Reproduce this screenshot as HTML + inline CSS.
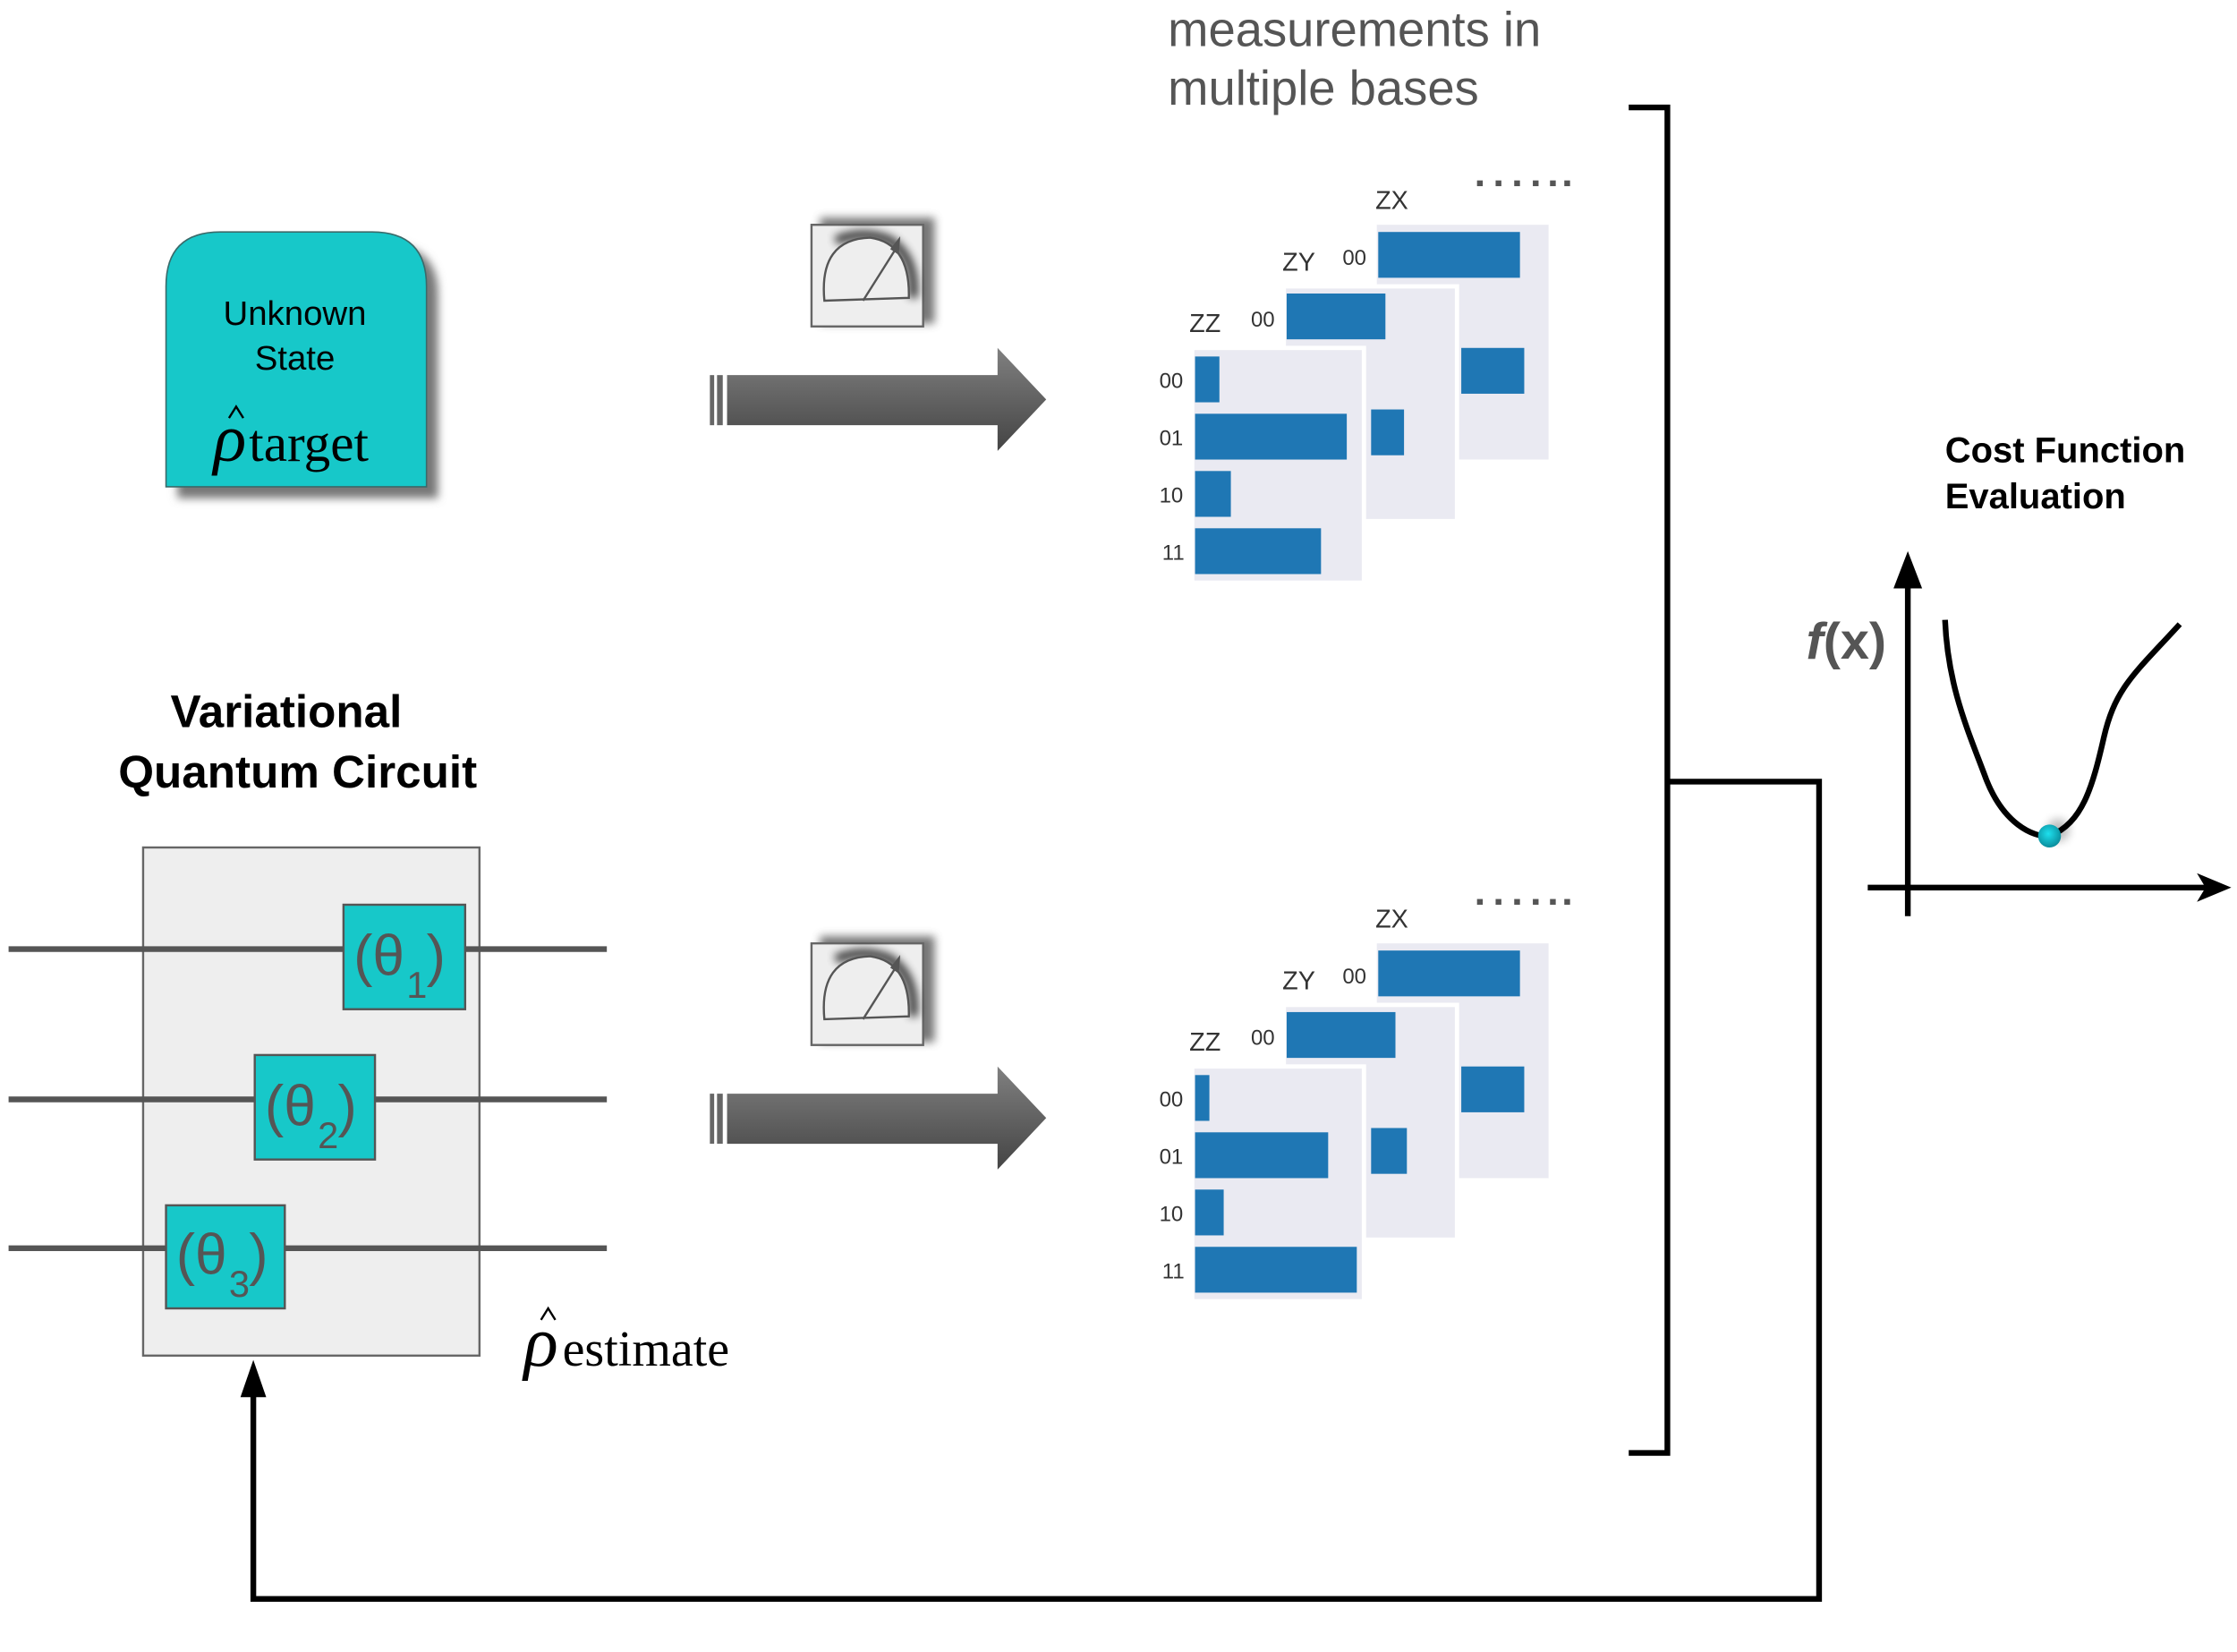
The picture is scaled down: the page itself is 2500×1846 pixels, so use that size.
<!DOCTYPE html>
<html><head><meta charset="utf-8"><style>html,body{margin:0;padding:0;background:#fff}svg{display:block}</style></head><body>
<svg width="2500" height="1846" viewBox="0 0 1563 1154" xmlns="http://www.w3.org/2000/svg">
<defs>
<linearGradient id="ag" x1="0" y1="0" x2="0" y2="1"><stop offset="0" stop-color="#808080"/><stop offset="1" stop-color="#444"/></linearGradient>
<filter id="sh" x="-30%" y="-30%" width="160%" height="160%"><feGaussianBlur stdDeviation="3"/></filter>
<radialGradient id="ball" cx="0.45" cy="0.4" r="0.6"><stop offset="0" stop-color="#1ee0ee"/><stop offset="1" stop-color="#0a8d9c"/></radialGradient>
</defs>
<g font-family="Liberation Sans, sans-serif">
<text x="816" y="32" font-size="34" fill="#555">measurements in</text>
<text x="816" y="73" font-size="34" fill="#555">multiple bases</text>

<path d="M124,348 V205 Q124,170 162,170 H266 Q306,170 306,205 V348 Z" fill="#777" filter="url(#sh)"/>
<path d="M116,340 V200 Q116,162 154,162 H260 Q298,162 298,200 V340 Z" fill="#17c8c9" stroke="#3a6a6a" stroke-width="1"/>
<text x="206" y="227" font-size="24" text-anchor="middle">Unknown</text>
<text x="206" y="258" font-size="24" text-anchor="middle">State</text>
<text x="149" y="322" font-family="Liberation Serif, serif" font-size="48" font-style="italic">ρ</text>
<path d="M160,292 L165,284 L170,292" fill="none" stroke="#000" stroke-width="1.5"/>
<text x="174" y="322" font-family="Liberation Serif, serif" font-size="37">target</text>

<g id="mm">
<rect x="573" y="152" width="80" height="74" fill="#555" filter="url(#sh)" opacity="0.8"/>
<rect x="567" y="157" width="78" height="71" fill="#eee" stroke="#666" stroke-width="1.5"/>
<path d="M584,168 Q604,160 622,168 Q640,180 638,208" fill="none" stroke="#000" stroke-width="6" filter="url(#sh)" opacity="0.8"/>
<path d="M576,210 Q572,167 608,166 Q636,170 635,208 Z" fill="#eee" stroke="#555" stroke-width="1.5"/>
<path d="M603,210 L627,172" stroke="#555" stroke-width="1.5"/>
<path d="M622,174 L629,165 L628,178 Z" fill="#555"/>
<rect x="496" y="262" width="3" height="35" fill="#666"/>
<rect x="501" y="262" width="4" height="35" fill="#666"/>
<path d="M508,262 H697 V243 L731,279 L697,315 V297 H508 Z" fill="url(#ag)"/>
</g>
<use href="#mm" transform="translate(0,502)"/>

<g font-size="15" fill="#333">
<rect x="962" y="157" width="120" height="164" fill="#eaeaf2"/>
<rect x="963" y="162" width="99" height="32" fill="#1f77b4"/>
<rect x="1021" y="243" width="44" height="32" fill="#1f77b4"/>
<rect x="897" y="200" width="121" height="164" fill="#eaeaf2" stroke="#fff" stroke-width="3"/>
<rect x="899" y="205" width="69" height="32" fill="#1f77b4"/>
<rect x="958" y="286" width="23" height="32" fill="#1f77b4"/>
<rect x="833" y="243" width="120" height="164" fill="#eaeaf2" stroke="#fff" stroke-width="3"/>
<rect x="835" y="249" width="17" height="32" fill="#1f77b4"/>
<rect x="835" y="289" width="106" height="32" fill="#1f77b4"/>
<rect x="835" y="329" width="25" height="32" fill="#1f77b4"/>
<rect x="835" y="369" width="88" height="32" fill="#1f77b4"/>
<text x="961" y="146" font-size="18">ZX</text><text x="896" y="189" font-size="18">ZY</text><text x="831" y="232" font-size="18">ZZ</text>
<text x="938" y="185">00</text><text x="874" y="228">00</text>
<text x="810" y="271">00</text><text x="810" y="311">01</text><text x="810" y="351">10</text><text x="812" y="391">11</text>
</g>
<g fill="#555"><rect x="1032" y="126" width="4" height="4"/><rect x="1045" y="126" width="4" height="4"/><rect x="1058" y="126" width="4" height="4"/><rect x="1071" y="126" width="4" height="4"/><rect x="1083" y="126" width="4" height="4"/><rect x="1093" y="126" width="4" height="4"/></g>

<g font-size="15" fill="#333" transform="translate(0,502)">
<rect x="962" y="157" width="120" height="164" fill="#eaeaf2"/>
<rect x="963" y="162" width="99" height="32" fill="#1f77b4"/>
<rect x="1021" y="243" width="44" height="32" fill="#1f77b4"/>
<rect x="897" y="200" width="121" height="164" fill="#eaeaf2" stroke="#fff" stroke-width="3"/>
<rect x="899" y="205" width="76" height="32" fill="#1f77b4"/>
<rect x="958" y="286" width="25" height="32" fill="#1f77b4"/>
<rect x="833" y="243" width="120" height="164" fill="#eaeaf2" stroke="#fff" stroke-width="3"/>
<rect x="835" y="249" width="10" height="32" fill="#1f77b4"/>
<rect x="835" y="289" width="93" height="32" fill="#1f77b4"/>
<rect x="835" y="329" width="20" height="32" fill="#1f77b4"/>
<rect x="835" y="369" width="113" height="32" fill="#1f77b4"/>
<text x="961" y="146" font-size="18">ZX</text><text x="896" y="189" font-size="18">ZY</text><text x="831" y="232" font-size="18">ZZ</text>
<text x="938" y="185">00</text><text x="874" y="228">00</text>
<text x="810" y="271">00</text><text x="810" y="311">01</text><text x="810" y="351">10</text><text x="812" y="391">11</text>
<g fill="#555"><rect x="1032" y="126" width="4" height="4"/><rect x="1045" y="126" width="4" height="4"/><rect x="1058" y="126" width="4" height="4"/><rect x="1071" y="126" width="4" height="4"/><rect x="1083" y="126" width="4" height="4"/><rect x="1093" y="126" width="4" height="4"/></g>
</g>

<text x="200" y="508" font-size="32" font-weight="bold" text-anchor="middle">Variational</text>
<text x="208" y="550" font-size="32" font-weight="bold" text-anchor="middle">Quantum Circuit</text>
<rect x="100" y="592" width="235" height="355" fill="#eee" stroke="#666" stroke-width="1.5"/>
<g stroke="#555" stroke-width="4"><line x1="6" y1="663" x2="424" y2="663"/><line x1="6" y1="768" x2="424" y2="768"/><line x1="6" y1="872" x2="424" y2="872"/></g>
<g fill="#17c8c9" stroke="#555" stroke-width="1.5">
<rect x="240" y="632" width="85" height="73"/><rect x="178" y="737" width="84" height="73"/><rect x="116" y="842" width="83" height="72"/></g>
<g fill="#555" font-size="40">
<text x="247" y="681">(θ</text><text x="284" y="697" font-size="26">1</text><text x="298" y="681">)</text>
<text x="185" y="786">(θ</text><text x="222" y="802" font-size="26">2</text><text x="236" y="786">)</text>
<text x="123" y="890">(θ</text><text x="160" y="906" font-size="26">3</text><text x="174" y="890">)</text>
</g>
<text x="366" y="954" font-family="Liberation Serif, serif" font-size="50" font-style="italic">ρ</text>
<path d="M378,922 L383,914 L388,922" fill="none" stroke="#000" stroke-width="1.5"/>
<text x="393" y="954" font-family="Liberation Serif, serif" font-size="35">estimate</text>

<g fill="none" stroke="#000" stroke-width="4">
<path d="M1138,75 H1165 V1015 H1138"/>
<path d="M1165,546 H1271 V1117 H177 V970"/>
</g>
<path d="M168,976 L177,950 L186,976 Z" fill="#000"/>

<text x="1359" y="323" font-size="25" font-weight="bold">Cost Function</text>
<text x="1359" y="355" font-size="25" font-weight="bold">Evaluation</text>
<text x="1262" y="460" font-size="36" font-weight="bold" fill="#555"><tspan font-style="italic">f</tspan>(x)</text>
<g stroke="#000" stroke-width="4" fill="none">
<line x1="1333" y1="640" x2="1333" y2="400"/>
<line x1="1305" y1="620" x2="1545" y2="620"/>
<path d="M1359,433 C1361,480 1375,510 1388,545 C1400,575 1420,585 1432,584 C1455,575 1462,550 1470,515 C1478,480 1492,470 1523,436"/>
</g>
<path d="M1323,411 L1333,385 L1343,411 Z" fill="#000"/>
<path d="M1535,610 L1559,620 L1535,630 L1541,620 Z" fill="#000"/>
<circle cx="1438" cy="580" r="8" fill="#000" opacity="0.25" filter="url(#sh)"/>
<circle cx="1432" cy="584" r="8" fill="url(#ball)"/>
</g>
</svg>
</body></html>
